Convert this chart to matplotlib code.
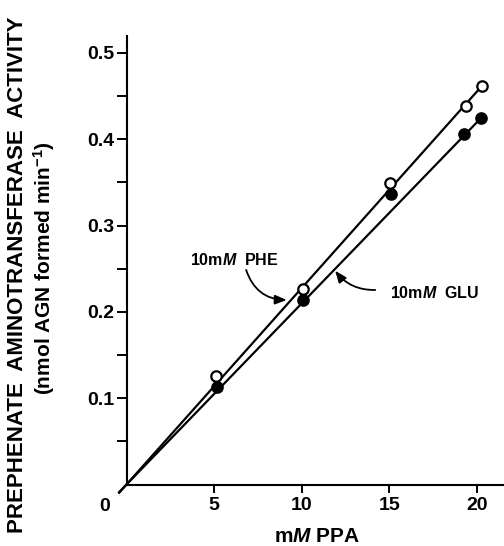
import matplotlib
matplotlib.use("Agg")
import numpy as np
from matplotlib import pyplot as plt

plt.rcParams['font.family'] = ['Liberation Sans', 'DejaVu Sans']
plt.rcParams['font.weight'] = 'bold'
plt.rcParams['mathtext.fontset'] = 'custom'
plt.rcParams['mathtext.rm'] = 'Liberation Sans:bold'
plt.rcParams['mathtext.bf'] = 'Liberation Sans:bold'
plt.rcParams['mathtext.it'] = 'Liberation Sans:italic:bold'

# PPA concentration (mM) and activity (nmol AGN formed / min)
phe_ppa = [5.11, 10.07, 15.06, 19.40, 20.30]
phe_activity = [0.126, 0.226, 0.349, 0.438, 0.462]
glu_ppa = [5.15, 10.10, 15.11, 19.25, 20.26]
glu_activity = [0.113, 0.214, 0.337, 0.406, 0.425]

# slopes of the hand-fitted lines through the origin
phe_slope = 0.02276
glu_slope = 0.02098

x_ticks = [5, 10, 15, 20]
y_ticks = [0.1, 0.2, 0.3, 0.4, 0.5]
y_minor = [0.05, 0.15, 0.25, 0.35, 0.45]

fig = plt.figure(figsize=(5.04, 5.46), dpi=100)
ax = fig.add_axes([0.251, 0.1126, 0.749, 0.822])

for xs, ys, slope, face in [(phe_ppa, phe_activity, phe_slope, 'white'),
                            (glu_ppa, glu_activity, glu_slope, 'black')]:
    fit_x = np.array([-0.42, xs[-1]])
    ax.plot(fit_x, slope * fit_x, color='black', lw=1.6, clip_on=False, zorder=2)
    ax.plot(xs, ys, 'o', ms=7.5, mfc=face, mec='black', mew=1.6, zorder=3)

ax.set_xlim(0, 21.55)
ax.set_ylim(0, 0.52)
ax.spines['top'].set_visible(False)
ax.spines['right'].set_visible(False)
ax.spines['left'].set_linewidth(1.5)
ax.spines['bottom'].set_linewidth(1.5)

ax.set_xticks(x_ticks)
ax.set_xticklabels([str(t) for t in x_ticks])
ax.set_yticks(y_ticks)
ax.set_yticklabels([f'{t:.1f}' for t in y_ticks])
ax.set_yticks(y_minor, minor=True)
ax.tick_params(axis='both', which='both', direction='out', width=1.4, labelsize=14)
ax.tick_params(axis='x', length=5.8, pad=3)
ax.tick_params(axis='y', which='both', length=7, pad=2)

# shared zero at the corner
ax.text(-1.23, -0.026, '0', ha='center', va='center', fontsize=14, clip_on=False)

ax.text(-6.2, 0.243, 'PREPHENATE  AMINOTRANSFERASE  ACTIVITY', rotation=90,
        ha='center', va='center', fontsize=16, clip_on=False)
ax.text(-4.7, 0.251, '(nmol AGN formed min$^{-1}$)', rotation=90,
        ha='center', va='center', fontsize=15, clip_on=False)
ax.text(10.85, -0.0665, 'm$M$ PPA', ha='center', va='baseline', fontsize=15, clip_on=False)

# curve labels with arrows
ax.text(3.63, 0.260, '10m$M$  PHE', ha='left', va='center', fontsize=11.5)
ax.annotate('', xy=(9.15, 0.2138), xytext=(6.83, 0.2486),
            arrowprops=dict(arrowstyle='-|>,head_length=0.7,head_width=0.28', color='black',
                            lw=1.3, connectionstyle='arc3,rad=0.35', shrinkA=0, shrinkB=0))
ax.text(15.06, 0.2219, '10m$M$  GLU', ha='left', va='center', fontsize=11.5)
ax.annotate('', xy=(11.91, 0.2477), xytext=(14.2, 0.2254),
            arrowprops=dict(arrowstyle='-|>,head_length=0.7,head_width=0.28', color='black',
                            lw=1.3, connectionstyle='arc3,rad=-0.25', shrinkA=0, shrinkB=0))

fig.savefig('out.png', dpi=100)
